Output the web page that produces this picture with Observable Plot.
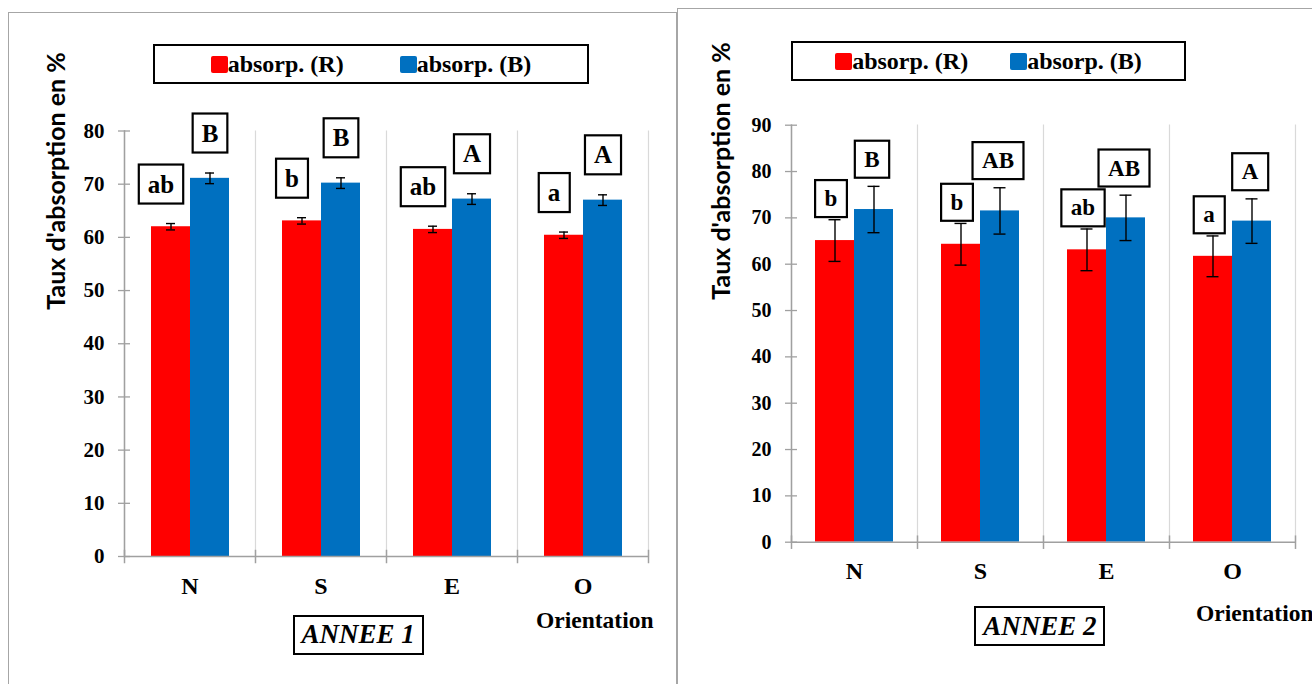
<!DOCTYPE html>
<html>
<head>
<meta charset="utf-8">
<script src="https://cdn.jsdelivr.net/npm/d3@7"></script>
<script src="https://cdn.jsdelivr.net/npm/@observablehq/plot@0.6"></script>
<style>
  body { margin: 0; background: #fff; }
  #page { position: relative; width: 1312px; height: 684px; overflow: hidden; background: #fff; }
  .panel { position: absolute; border: 1px solid #a6a6a6; box-sizing: border-box; }
  .chart { position: absolute; top: 0; }
  .chart svg text { font-family: "Liberation Serif", serif; font-weight: bold; }
  .legend { position: absolute; box-sizing: border-box; border: 2px solid #000; background: #fff;
            display: flex; align-items: center; justify-content: center;
            font: bold 24px "Liberation Serif", serif; color: #000; white-space: nowrap; }
  .sw { display: inline-block; width: 17px; height: 17px; border-radius: 2px; }
  .ytitle { position: absolute; transform: translate(-50%, -50%) rotate(-90deg); white-space: nowrap;
            font: bold 25px Lato, sans-serif; color: #000; }
  .orient { position: absolute; font: bold 23.5px "Liberation Serif", serif; line-height: 23.5px; white-space: nowrap; color: #000; }
  .year { position: absolute; box-sizing: border-box; border: 2px solid #000; background: #fff;
          display: flex; align-items: center; justify-content: center;
          font-family: "Liberation Serif", serif; font-style: italic; font-weight: 900; font-size: 27px;
          color: #000; white-space: nowrap; }
</style>
</head>
<body>
<div id="page">
  <div class="panel" style="left:8px; top:12px; width:669px; height:720px;"></div>
  <div class="panel" style="left:677px; top:8px; width:700px; height:720px;"></div>
  <div id="chart1" class="chart" style="left:0px;"></div>
  <div id="chart2" class="chart" style="left:677px;"></div>
</div>
<script>
// ---------- data ----------
const orientations = ["N", "S", "E", "O"];
const seriesKeys = ["R", "B"];
const seriesNames = ["absorp. (R)", "absorp. (B)"];
const seriesColors = ["#ff0000", "#0070c0"];

// ANNEE 1
const year1R = [62.0, 63.1, 61.5, 60.4];
const year1B = [71.1, 70.2, 67.2, 67.0];
const year1ErrR = [0.6, 0.6, 0.6, 0.6];
const year1ErrB = [1.0, 1.0, 1.0, 1.0];
const year1LettersR = ["ab", "b", "ab", "a"];
const year1LettersB = ["B", "B", "A", "A"];
const year1Ticks = [0, 10, 20, 30, 40, 50, 60, 70, 80];

// ANNEE 2
const year2R = [65.1, 64.3, 63.1, 61.7];
const year2B = [71.8, 71.5, 70.0, 69.3];
const year2ErrR = [4.5, 4.5, 4.5, 4.4];
const year2ErrB = [5.0, 5.0, 4.9, 4.8];
const year2LettersR = ["b", "b", "ab", "a"];
const year2LettersB = ["B", "AB", "AB", "A"];
const year2Ticks = [0, 10, 20, 30, 40, 50, 60, 70, 80, 90];

const yTitle = "Taux d'absorption en %";
const xTitle = "Orientation";
const yearTitles = ["ANNEE 1", "ANNEE 2"];

function buildRows(R, B, eR, eB, lR, lB) {
  const rows = [];
  orientations.forEach((c, i) => {
    rows.push({cat: c, key: "R", value: R[i], err: eR[i], letter: lR[i]});
    rows.push({cat: c, key: "B", value: B[i], err: eB[i], letter: lB[i]});
  });
  return rows;
}

function boxLetters(svg, padX, boxH) {
  svg.querySelectorAll('g[aria-description="letters"] text').forEach(t => {
    const b = t.getBBox();
    const r = document.createElementNS("http://www.w3.org/2000/svg", "rect");
    r.setAttribute("x", b.x - padX);
    r.setAttribute("y", b.y + b.height / 2 - boxH / 2);
    r.setAttribute("width", b.width + 2 * padX);
    r.setAttribute("height", boxH);
    r.setAttribute("fill", "#fff");
    r.setAttribute("stroke", "#000");
    r.setAttribute("stroke-width", 2.2);
    const tr = t.getAttribute("transform");
    if (tr) r.setAttribute("transform", tr);
    t.parentNode.insertBefore(r, t);
  });
}

function panel(el, cfg) {
  const fh = cfg.height - cfg.marginTop - cfg.marginBottom;
  const serif = "Liberation Serif";
  const letterOpts = (key, dx, dy) => ({
    filter: d => d.key === key,
    fx: "cat", x: "key", y: d => d.value + d.err, text: "letter",
    dy, dx, fontFamily: serif, fontWeight: "bold", fontSize: cfg.letterSize,
    fill: "#000", ariaDescription: "letters"
  });
  const plot = Plot.plot({
    width: cfg.width, height: cfg.height,
    marginLeft: cfg.marginLeft, marginRight: cfg.marginRight,
    marginTop: cfg.marginTop, marginBottom: cfg.marginBottom,
    style: {background: "transparent", overflow: "visible", color: "#000", fontFamily: serif},
    fx: {domain: orientations, padding: 0, label: null, axis: null},
    x: {domain: seriesKeys, paddingInner: 0, paddingOuter: cfg.outer, axis: null},
    y: {domain: [0, cfg.yMax], axis: null},
    color: {domain: seriesKeys, range: seriesColors},
    marks: [
      // category separators
      Plot.frame({anchor: "left", stroke: "#d9d9d9", strokeWidth: 1.2}),
      Plot.frame({anchor: "right", stroke: "#d9d9d9", strokeWidth: 1.2, facetAnchor: "right"}),
      // bars
      Plot.barY(cfg.rows, {fx: "cat", x: "key", y: "value", fill: "key"}),
      // x axis line + crossing ticks at category boundaries
      Plot.ruleY([0], {stroke: "#a0a0a0", strokeWidth: 1.5}),
      Plot.frame({anchor: "left", stroke: "#a0a0a0", strokeWidth: 1.5, insetTop: fh - 6, insetBottom: -6}),
      Plot.frame({anchor: "right", stroke: "#a0a0a0", strokeWidth: 1.5, insetTop: fh - 6, insetBottom: -6, facetAnchor: "right"}),
      // y axis line + crossing ticks + labels
      Plot.frame({anchor: "left", stroke: "#a0a0a0", strokeWidth: 1.5, facetAnchor: "left"}),
      Plot.axisY({ticks: cfg.ticks, tickSize: 12, dx: 6, text: null, stroke: "#a0a0a0", strokeWidth: 1.3, label: null}),
      Plot.axisY({ticks: cfg.ticks, tickSize: 0, tickPadding: 20, label: null,
                  fontFamily: serif, fontWeight: "bold", fontSize: cfg.tickSize, fill: "#000"}),
      Plot.axisFx({anchor: "bottom", tickSize: 0, tickPadding: 20, label: null,
                   fontFamily: serif, fontWeight: "bold", fontSize: 24, fill: "#000"}),
      // error bars
      Plot.ruleX(cfg.rows, {fx: "cat", x: "key", y1: d => d.value - d.err, y2: d => d.value + d.err,
                            stroke: "#000", strokeWidth: 1.4}),
      Plot.tickY(cfg.rows, {fx: "cat", x: "key", y: d => d.value + d.err, stroke: "#000", strokeWidth: 1.4,
                            insetLeft: cfg.capInset, insetRight: cfg.capInset}),
      Plot.tickY(cfg.rows, {fx: "cat", x: "key", y: d => d.value - d.err, stroke: "#000", strokeWidth: 1.4,
                            insetLeft: cfg.capInset, insetRight: cfg.capInset}),
      // significance letters
      Plot.text(cfg.rows, letterOpts("R", cfg.dxR, cfg.dyR)),
      Plot.text(cfg.rows, letterOpts("B", cfg.dxB, cfg.dyB))
    ]
  });
  el.appendChild(plot);
  boxLetters(plot, cfg.padX, cfg.boxH);
}

function addHtml(cfg) {
  const page = document.getElementById("page");
  const lg = document.createElement("div");
  lg.className = "legend";
  Object.assign(lg.style, {left: cfg.legend[0] + "px", top: cfg.legend[1] + "px",
                           width: cfg.legend[2] + "px", height: cfg.legend[3] + "px"});
  seriesNames.forEach((name, i) => {
    const item = document.createElement("span");
    item.style.display = "inline-flex";
    item.style.alignItems = "center";
    if (i === 0) item.style.marginRight = cfg.legendGap + "px";
    const sw = document.createElement("span");
    sw.className = "sw";
    sw.style.background = seriesColors[i];
    const tx = document.createElement("span");
    tx.textContent = name;
    item.appendChild(sw); item.appendChild(tx);
    lg.appendChild(item);
  });
  page.appendChild(lg);
  const yt = document.createElement("div");
  yt.className = "ytitle";
  yt.textContent = yTitle;
  yt.style.left = cfg.yTitle[0] + "px";
  yt.style.top = cfg.yTitle[1] + "px";
  page.appendChild(yt);
  const ot = document.createElement("div");
  ot.className = "orient";
  ot.textContent = xTitle;
  ot.style.left = cfg.orient[0] + "px";
  ot.style.top = cfg.orient[1] + "px";
  page.appendChild(ot);
  const yb = document.createElement("div");
  yb.className = "year";
  yb.textContent = cfg.yearTitle;
  Object.assign(yb.style, {left: cfg.year[0] + "px", top: cfg.year[1] + "px",
                           width: cfg.year[2] + "px", height: cfg.year[3] + "px"});
  page.appendChild(yb);
}

panel(document.getElementById("chart1"), {
  rows: buildRows(year1R, year1B, year1ErrR, year1ErrB, year1LettersR, year1LettersB),
  yMax: 80, ticks: year1Ticks,
  width: 677, height: 684, marginLeft: 124, marginRight: 29, marginTop: 130.5, marginBottom: 128,
  outer: 0.64, capInset: 15, tickSize: 21, letterSize: 25, dyR: -39, dyB: -39.5, dxR: -10, dxB: 0,
  padX: 9, boxH: 39
});
panel(document.getElementById("chart2"), {
  rows: buildRows(year2R, year2B, year2ErrR, year2ErrB, year2LettersR, year2LettersB),
  yMax: 90, ticks: year2Ticks,
  width: 635, height: 684, marginLeft: 112, marginRight: 16, marginTop: 124.7, marginBottom: 142.3,
  outer: 0.6, capInset: 13.5, tickSize: 20, letterSize: 23, dyR: -21, dyB: -27, dxR: -4, dxB: -2,
  padX: 9.5, boxH: 37
});

addHtml({legend: [153, 44, 436, 40], legendGap: 56, yTitle: [55, 181], orient: [536, 608.6],
         year: [292.7, 615, 131, 39.5], yearTitle: yearTitles[0]});
addHtml({legend: [791, 41, 395, 40], legendGap: 42, yTitle: [720, 171], orient: [1196, 602],
         year: [974.3, 606, 131, 40], yearTitle: yearTitles[1]});
</script>
</body>
</html>
